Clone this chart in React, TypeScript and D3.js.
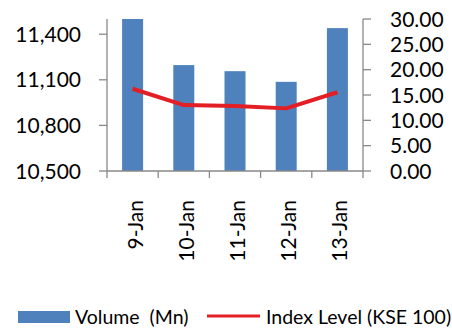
import React from "react";
import * as d3 from "d3";

const categories = ["9-Jan", "10-Jan", "11-Jan", "12-Jan", "13-Jan"];
const volume = [30.0, 20.9, 19.7, 17.6, 28.2];
const indexLevel = [11041, 10934, 10928, 10912, 11018];
const leftTicks = [10500, 10800, 11100, 11400];
const rightTicks = [0, 5, 10, 15, 20, 25, 30];

const W = 452;
const H = 330;
const plot = { left: 107, right: 363, top: 19, bottom: 171 };
const axisColor = "#898989";
const barColor = "#4F81BD";
const lineColor = "#E31E25";
const font = "Lato, 'Open Sans', sans-serif";

export default function App() {
  const x = d3
    .scaleBand<string>()
    .domain(categories)
    .range([plot.left, plot.right])
    .paddingInner(0.59)
    .paddingOuter(0.295);
  const step = x.step();
  const yL = d3.scaleLinear().domain([10500, 11500]).range([plot.bottom, plot.top]);
  const yR = d3.scaleLinear().domain([0, 30]).range([plot.bottom, plot.top]);

  const line = d3
    .line<number>()
    .x((_, i) => (x(categories[i]) as number) + x.bandwidth() / 2)
    .y((d) => yL(d));

  const fmtL = d3.format(",");
  const fmtR = d3.format(".2f");

  const boundaries = d3.range(categories.length + 1).map((i) => plot.left + i * step);

  return (
    <svg
      width={W}
      height={H}
      style={{ position: "absolute", left: 0, top: 0, background: "#fff" }}
    >
      {/* bars */}
      {categories.map((c, i) => (
        <rect
          key={c}
          x={x(c)}
          y={yR(Math.min(volume[i], 30))}
          width={x.bandwidth()}
          height={plot.bottom - yR(Math.min(volume[i], 30))}
          fill={barColor}
        />
      ))}

      {/* axes */}
      <g stroke={axisColor} strokeWidth={1.3} fill="none">
        <line x1={plot.left} x2={plot.left} y1={plot.top} y2={plot.bottom} />
        <line x1={plot.right} x2={plot.right} y1={plot.top} y2={plot.bottom} />
        <line x1={plot.left} x2={plot.right} y1={plot.bottom} y2={plot.bottom} />
        {leftTicks.map((t) => (
          <line key={t} x1={plot.left - 8} x2={plot.left} y1={yL(t)} y2={yL(t)} />
        ))}
        {rightTicks.map((t) => (
          <line key={t} x1={plot.right} x2={plot.right + 8} y1={yR(t)} y2={yR(t)} />
        ))}
        {boundaries.map((b, i) => (
          <line key={i} x1={b} x2={b} y1={plot.bottom} y2={plot.bottom + 7} />
        ))}
      </g>

      {/* line */}
      <path
        d={line(indexLevel) || ""}
        fill="none"
        stroke={lineColor}
        strokeWidth={4}
        strokeLinejoin="round"
      />

      {/* left tick labels */}
      {leftTicks.map((t) => (
        <text
          key={t}
          x={81}
          y={yL(t)}
          dy="0.36em"
          textAnchor="end"
          fontFamily={font}
          fontSize={21}
          fill="#000"
        >
          {fmtL(t)}
        </text>
      ))}

      {/* right tick labels */}
      {rightTicks.map((t) => (
        <text
          key={t}
          x={390}
          y={yR(t)}
          dy="0.36em"
          textAnchor="start"
          fontFamily={font}
          fontSize={21}
          fill="#000"
        >
          {fmtR(t)}
        </text>
      ))}

      {/* category labels */}
      {categories.map((c) => {
        const cx = (x(c) as number) + x.bandwidth() / 2;
        return (
          <text
            key={c}
            transform={`translate(${cx + 10},200) rotate(-90)`}
            textAnchor="end"
            fontFamily={font}
            fontSize={21}
            fill="#000"
          >
            {c}
          </text>
        );
      })}

      {/* legend */}
      <rect x={18} y={311} width={52} height={12} fill={barColor} />
      <text
        x={75}
        y={324}
        fontFamily={font}
        fontSize={19.5}
        fill="#000"
        style={{ whiteSpace: "pre" }}
      >
        {"Volume  (Mn)"}
      </text>
      <line x1={207} x2={260} y1={316} y2={316} stroke={lineColor} strokeWidth={3} />
      <text x={266} y={324} fontFamily={font} fontSize={19.5} fill="#000">
        Index Level (KSE 100)
      </text>
    </svg>
  );
}
